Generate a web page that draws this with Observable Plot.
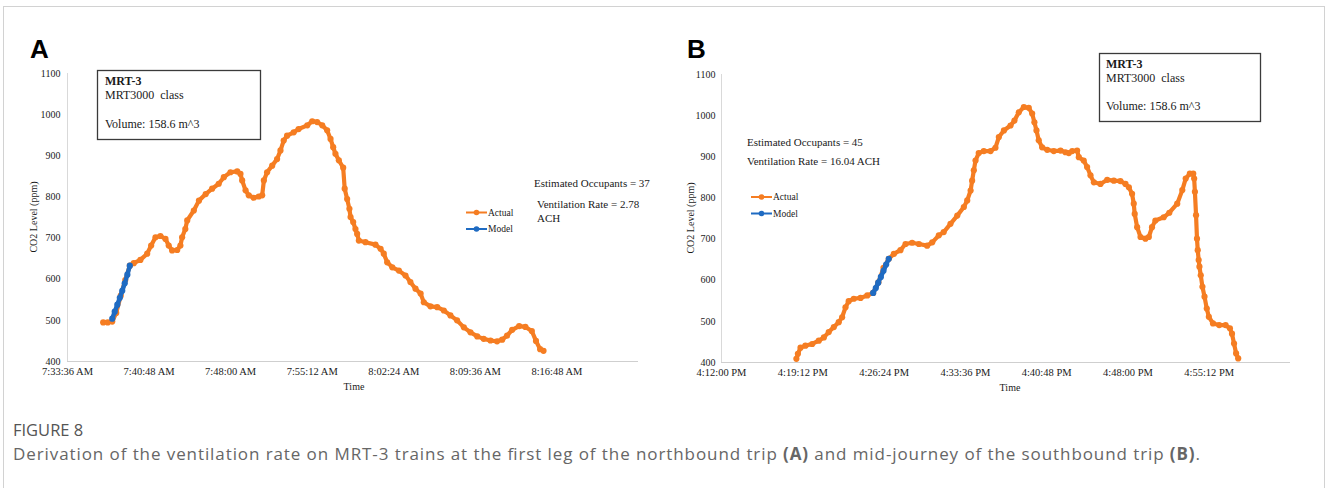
<!DOCTYPE html>
<html>
<head>
<meta charset="utf-8">
<script src="https://cdn.jsdelivr.net/npm/d3@7"></script>
<script src="https://cdn.jsdelivr.net/npm/@observablehq/plot@0.6"></script>
<style>
  html, body { margin: 0; padding: 0; background: #fff; }
  body { width: 1327px; height: 488px; overflow: hidden; position: relative; }
  #frame { position: absolute; left: 3px; top: 6px; width: 1322px; height: 500px; border: 1px solid #d2d2d2; box-sizing: border-box; }
  .panel { position: absolute; top: 0; }
  #overlay { position: absolute; left: 0; top: 0; pointer-events: none; }
  .serif { font-family: "Liberation Serif", "Times New Roman", serif; fill: #1a1a1a; }
</style>
</head>
<body>
<div id="frame"></div>
<div id="panelA" class="panel" style="left:0px"></div>
<div id="panelB" class="panel" style="left:660px"></div>
<svg id="overlay" width="1327" height="488" xmlns="http://www.w3.org/2000/svg">
  <!-- panel letters -->
  <text x="30" y="58" font-family="Liberation Sans, Arial, sans-serif" font-weight="bold" font-size="26" fill="#000">A</text>
  <text x="687" y="58" font-family="Liberation Sans, Arial, sans-serif" font-weight="bold" font-size="26" fill="#000">B</text>

  <!-- info boxes -->
  <rect x="97.5" y="70.5" width="163" height="69" fill="#fff" stroke="#3a3a3a" stroke-width="1.3"/>
  <text class="serif" x="105" y="85" font-size="12" font-weight="bold">MRT-3</text>
  <text class="serif" x="105" y="99" font-size="12" word-spacing="3">MRT3000 class</text>
  <text class="serif" x="105" y="127.5" font-size="12">Volume: 158.6 m^3</text>

  <rect x="1099.5" y="53.5" width="161" height="68" fill="#fff" stroke="#3a3a3a" stroke-width="1.3"/>
  <text class="serif" x="1106" y="67.5" font-size="12" font-weight="bold">MRT-3</text>
  <text class="serif" x="1106" y="81.5" font-size="12" word-spacing="3">MRT3000 class</text>
  <text class="serif" x="1106" y="110" font-size="12">Volume: 158.6 m^3</text>

  <!-- annotations A -->
  <text class="serif" x="534" y="187" font-size="11">Estimated Occupants = 37</text>
  <text class="serif" x="537" y="208" font-size="11">Ventilation Rate = 2.78</text>
  <text class="serif" x="537" y="222" font-size="11">ACH</text>
  <!-- annotations B -->
  <text class="serif" x="747" y="146" font-size="11">Estimated Occupants = 45</text>
  <text class="serif" x="747" y="165" font-size="11">Ventilation Rate = 16.04 ACH</text>

  <!-- legends -->
  <g id="legA"></g>
  <g id="legB"></g>

  <!-- axis titles -->
  <text class="serif" font-size="10" text-anchor="middle" transform="translate(37,217) rotate(-90)">CO2 Level (ppm)</text>
  <text class="serif" font-size="10" text-anchor="middle" transform="translate(694,218) rotate(-90)">CO2 Level (ppm)</text>
  <text class="serif" x="354" y="390" font-size="10" text-anchor="middle">Time</text>
  <text class="serif" x="1010" y="391" font-size="10" text-anchor="middle">Time</text>

  <!-- caption -->
  <text x="13" y="436" font-family="Open Sans, Noto Sans, sans-serif" font-size="16.5" fill="#555">FIGURE 8</text>
  <text x="13" y="460" font-family="Open Sans, Noto Sans, sans-serif" font-size="17" fill="#666" textLength="1187" lengthAdjust="spacing">Derivation of the ventilation rate on MRT-3 trains at the first leg of the northbound trip <tspan font-weight="bold">(A)</tspan> and mid-journey of the southbound trip <tspan font-weight="bold">(B)</tspan>.</text>
</svg>

<script>
// ---------------- DATA ----------------
const orange = "#F57D22";
const blue = "#1F6BC2";
const yTicks = [400, 500, 600, 700, 800, 900, 1000, 1100];
const seriesNames = ["Actual", "Model"];

// Panel A (northbound, AM)
const aTickLabels = ["7:33:36", "7:40:48", "7:48:00", "7:55:12", "8:02:24", "8:09:36", "8:16:48"];
const aDomainEnd = "8:24:00";
const aActualTime = ["7:36:45","7:37:09","7:37:33","7:37:54","7:38:18","7:38:42","7:39:06","7:39:27","7:40:02","7:40:38","7:40:59","7:41:22","7:41:48","7:42:15","7:42:32","7:42:50","7:43:17","7:43:34","7:43:43","7:44:00","7:44:10","7:44:45","7:45:12","7:45:48","7:46:22","7:46:57","7:47:24","7:47:59","7:48:35","7:48:52","7:49:01","7:49:19","7:49:36","7:50:02","7:50:29","7:50:47","7:50:56","7:51:13","7:51:40","7:52:06","7:52:24","7:52:41","7:52:59","7:53:34","7:54:00","7:54:46","7:55:12","7:55:38","7:56:05","7:56:31","7:56:49","7:57:03","7:57:15","7:57:33","7:57:56","7:58:04","7:58:17","7:58:29","7:58:35","7:58:49","7:59:01","7:59:10","7:59:19","7:59:54","8:00:47","8:01:14","8:01:31","8:01:49","8:02:16","8:02:51","8:03:26","8:03:52","8:04:19","8:04:46","8:05:03","8:05:38","8:06:14","8:06:49","8:07:24","8:07:59","8:08:35","8:09:10","8:09:46","8:10:20","8:10:56","8:11:31","8:11:58","8:12:24","8:12:51","8:13:28","8:14:01","8:14:35","8:14:57","8:15:19","8:15:37"];
const aActualCO2 = [495,495,497,518,560,598,633,639,647,662,682,702,705,698,682,670,671,682,702,722,743,767,791,807,820,832,848,860,862,856,840,816,804,798,801,804,840,860,876,892,913,937,949,957,965,974,984,982,974,962,941,921,905,889,871,820,795,771,751,739,722,710,694,690,684,674,662,641,629,621,609,593,577,565,544,534,532,524,512,500,483,471,461,455,451,449,453,463,477,486,484,474,450,430,426];
const aModelTime = ["7:37:33","7:37:46","7:38:00","7:38:13","7:38:26","7:38:39","7:38:53","7:39:06"];
const aModelCO2 = [504,521,538,555,572,590,611,633];

// Panel B (southbound, PM)
const bTickLabels = ["16:12:00", "16:19:12", "16:26:24", "16:33:36", "16:40:48", "16:48:00", "16:55:12"];
const bDomainEnd = "17:02:24";
const bActualTime = ["16:18:38","16:18:46","16:19:00","16:19:26","16:20:02","16:20:37","16:21:04","16:21:30","16:21:57","16:22:23","16:22:41","16:22:59","16:23:16","16:23:43","16:24:19","16:24:55","16:25:26","16:25:54","16:26:21","16:26:49","16:27:16","16:27:51","16:28:18","16:28:53","16:29:29","16:30:13","16:30:40","16:31:15","16:31:41","16:32:17","16:32:53","16:33:28","16:33:46","16:34:04","16:34:12","16:34:21","16:34:30","16:34:47","16:35:14","16:35:50","16:36:16","16:36:34","16:37:01","16:37:36","16:37:57","16:38:20","16:38:47","16:39:13","16:39:31","16:39:43","16:39:54","16:40:06","16:40:24","16:40:51","16:41:26","16:42:02","16:42:28","16:42:46","16:43:04","16:43:30","16:43:39","16:44:05","16:44:23","16:44:41","16:44:59","16:45:34","16:46:10","16:46:45","16:47:20","16:47:47","16:48:05","16:48:22","16:48:31","16:48:36","16:48:49","16:49:07","16:49:33","16:49:51","16:50:08","16:50:26","16:51:10","16:51:40","16:52:22","16:52:49","16:53:07","16:53:29","16:53:47","16:53:52","16:53:56","16:54:02","16:54:07","16:54:11","16:54:16","16:54:20","16:54:27","16:54:36","16:54:47","16:54:59","16:55:10","16:55:32","16:56:05","16:56:39","16:57:02","16:57:13","16:57:24","16:57:35","16:57:46"];
const bActualCO2 = [409,421,436,441,445,453,461,474,486,498,510,534,549,555,557,563,569,595,630,652,664,673,688,691,688,684,692,709,717,737,757,778,794,818,842,867,891,909,914,914,922,948,964,976,988,1008,1021,1019,1005,984,964,940,923,917,914,915,911,909,914,915,899,891,875,855,838,834,844,842,841,834,826,810,786,761,729,705,701,705,729,745,753,764,786,819,847,859,859,847,815,758,701,673,649,633,612,584,560,531,511,495,491,491,483,470,446,422,410];
const bModelTime = ["16:25:26","16:25:40","16:25:53","16:26:07","16:26:21","16:26:35","16:26:49"];
const bModelCO2 = [569,581,594,608,623,638,652];

// ---------------- DRAW ----------------
const parse = d3.utcParse("%H:%M:%S");
const fmt = d3.utcFormat("%-I:%M:%S %p");

function panel(cfg) {
  const actual = cfg.aT.map((t, i) => ({t: parse(t), v: cfg.aV[i]}));
  const model = cfg.mT.map((t, i) => ({t: parse(t), v: cfg.mV[i]}));
  const ticks = cfg.ticks.map(parse);
  const domain = [ticks[0], parse(cfg.end)];
  return Plot.plot({
    width: cfg.width, height: 400,
    marginLeft: cfg.ml, marginRight: cfg.mr, marginTop: cfg.mt, marginBottom: cfg.mb,
    style: {background: "transparent", fontFamily: "Liberation Serif, Times New Roman, serif", fontSize: "10px", color: "#1a1a1a", overflow: "visible"},
    x: {type: "utc", domain},
    y: {domain: [400, 1100]},
    marks: [
      Plot.axisX({ticks, tickFormat: fmt, tickSize: 0, tickPadding: 6, label: null, fontSize: 10.5, style: {letterSpacing: "0.25px"}}),
      Plot.axisY({ticks: yTicks, tickFormat: d => String(d), tickSize: 0, tickPadding: cfg.yPad, label: null, fontSize: 10}),
      Plot.ruleX([domain[0]], {stroke: "#d9d9d9", strokeWidth: 1}),
      Plot.ruleY([400], {stroke: "#cfcfcf", strokeWidth: 1.2}),
      Plot.line(actual, {x: "t", y: "v", stroke: orange, strokeWidth: 4.2, strokeLinejoin: "round"}),
      Plot.dot(actual, {x: "t", y: "v", r: 3.1, fill: orange, stroke: "none"}),
      Plot.line(model, {x: "t", y: "v", stroke: blue, strokeWidth: 4.5, strokeLinecap: "round"}),
      Plot.dot(model, {x: "t", y: "v", r: 3.1, fill: blue, stroke: "none"})
    ]
  });
}

document.getElementById("panelA").appendChild(panel({
  aT: aActualTime, aV: aActualCO2, mT: aModelTime, mV: aModelCO2,
  ticks: aTickLabels, end: aDomainEnd, width: 660, ml: 67, mr: 22, mt: 73, mb: 39, yPad: 7
}));
document.getElementById("panelB").appendChild(panel({
  aT: bActualTime, aV: bActualCO2, mT: bModelTime, mV: bModelCO2,
  ticks: bTickLabels, end: bDomainEnd, width: 667, ml: 61, mr: 37, mt: 74, mb: 38, yPad: 6
}));

// legends
function legend(gId, x0, y0, dy) {
  const g = document.getElementById(gId);
  const ns = "http://www.w3.org/2000/svg";
  [orange, blue].forEach((c, i) => {
    const y = y0 + i * dy;
    const l = document.createElementNS(ns, "line");
    l.setAttribute("x1", x0); l.setAttribute("x2", x0 + 21);
    l.setAttribute("y1", y); l.setAttribute("y2", y);
    l.setAttribute("stroke", c); l.setAttribute("stroke-width", 2);
    g.appendChild(l);
    const d = document.createElementNS(ns, "circle");
    d.setAttribute("cx", x0 + 10.5); d.setAttribute("cy", y); d.setAttribute("r", 2.8);
    d.setAttribute("fill", c);
    g.appendChild(d);
    const t = document.createElementNS(ns, "text");
    t.setAttribute("x", x0 + 22); t.setAttribute("y", y + 3);
    t.setAttribute("class", "serif"); t.setAttribute("font-size", "9.5");
    t.textContent = seriesNames[i];
    g.appendChild(t);
  });
}
legend("legA", 466, 212.5, 16.5);
legend("legB", 751, 197, 16.5);
</script>
</body>
</html>
